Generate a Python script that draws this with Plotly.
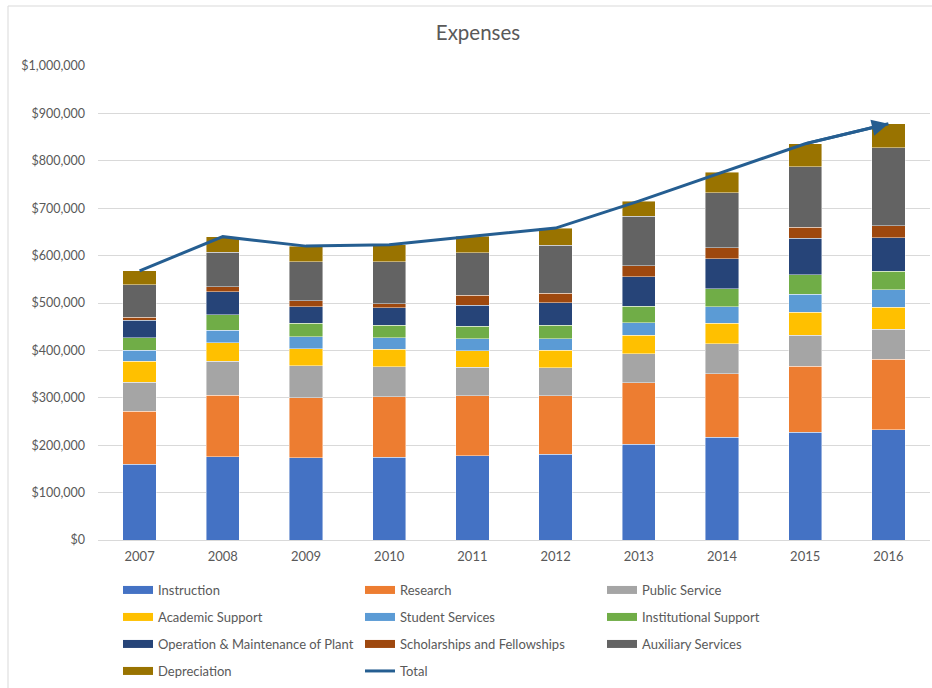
import plotly.graph_objects as go

# Fiscal years on the category axis
years = ["2007", "2008", "2009", "2010", "2011", "2012", "2013", "2014", "2015", "2016"]

# Expense categories (thousands of dollars), bottom to top of each stack
instruction = [160, 176, 174, 175, 178, 181, 202, 217, 227, 233]
research = [112, 129, 126, 127, 126, 123, 130, 134, 140, 148]
public_service = [61, 72, 68, 63, 60, 59, 61, 63, 65, 64]
academic_support = [44, 39, 35, 37, 35, 37, 39, 43, 49, 46]
student_services = [23, 27, 26, 25, 26, 25, 26, 35, 37, 37]
institutional_support = [27, 32, 28, 26, 26, 28, 35, 38, 42, 39]
operation_maintenance = [37, 49, 35, 37, 44, 48, 62, 63, 77, 71]
scholarships = [6, 10, 13, 8, 21, 20, 24, 24, 23, 25]
auxiliary = [69, 73, 82, 89, 90, 101, 104, 116, 127, 165]
depreciation = [29, 33, 33, 36, 35, 36, 32, 43, 49, 50]

series_names = [
    "Instruction", "Research", "Public Service",
    "Academic Support", "Student Services", "Institutional Support",
    "Operation & Maintenance of Plant", "Scholarships and Fellowships", "Auxiliary Services",
    "Depreciation",
]
series_values = [
    instruction, research, public_service,
    academic_support, student_services, institutional_support,
    operation_maintenance, scholarships, auxiliary,
    depreciation,
]
series_colors = [
    "#4472C4", "#ED7D31", "#A5A5A5",
    "#FFC000", "#5B9BD5", "#70AD47",
    "#264478", "#9E480E", "#636363",
    "#997300",
]
total_color = "#255E91"

# Total per year is the sum of all categories
total = [sum(v[i] for v in series_values) * 1000 for i in range(len(years))]

FONT = "Lato, 'Liberation Sans', Arial, sans-serif"
TEXT = "#595959"

fig = go.Figure()

for name, vals, color in zip(series_names, series_values, series_colors):
    fig.add_trace(go.Bar(
        x=years, y=[v * 1000 for v in vals], name=name,
        marker=dict(color=color, line=dict(color="rgba(255,255,255,0.55)", width=0.8)),
        showlegend=False,
    ))

# Total line
fig.add_trace(go.Scatter(
    x=years, y=total, mode="lines", name="Total",
    line=dict(color=total_color, width=3),
    showlegend=False,
))

# Legend entries: wide swatches, three per row
legend_rows = [
    [0, 1, 2], [3, 4, 5], [6, 7, 8], [9, "total"],
]
legend_ids = ["legend", "legend2", "legend3", "legend4"]
for lid, row in zip(legend_ids, legend_rows):
    for item in row:
        if item == "total":
            fig.add_trace(go.Scatter(
                x=[None], y=[None], mode="lines", name="Total",
                line=dict(color=total_color, width=3), legend=lid,
            ))
        else:
            fig.add_trace(go.Scatter(
                x=[None], y=[None], mode="lines", name=series_names[item],
                line=dict(color=series_colors[item], width=8), legend=lid,
            ))

# Plot area geometry (pixels)
W, H = 932, 688
L, R, T, B = 98, 2, 66, 148
pw, ph = W - L - R, H - T - B


def px_x(p):
    return (p - L) / pw


def px_y(p):
    return (H - B - p) / ph


legend_common = dict(
    orientation="h", xanchor="left", yanchor="middle",
    font=dict(family=FONT, size=13, color=TEXT),
    entrywidth=197, entrywidthmode="pixels",
    bgcolor="rgba(0,0,0,0)", traceorder="normal",
    itemclick=False, itemdoubleclick=False,
)
row_centers = [590, 617, 644, 671]
layout_legends = {}
for lid, cy in zip(legend_ids, row_centers):
    layout_legends[lid] = dict(legend_common, x=px_x(118), y=px_y(cy))

n = len(years)
fig.update_layout(
    width=W, height=H,
    margin=dict(l=L, r=R, t=T, b=B, pad=0),
    paper_bgcolor="white", plot_bgcolor="white",
    barmode="stack", bargap=0.6,
    font=dict(family=FONT, color=TEXT),
    title=dict(
        text="Expenses", x=478 / W, xref="container", xanchor="center",
        y=1 - 33 / H, yref="container", yanchor="middle",
        font=dict(family=FONT, size=20.5, color=TEXT),
    ),
    xaxis=dict(
        type="category",
        showgrid=False, showline=False, ticks="",
        tickfont=dict(family=FONT, size=13, color=TEXT),
        ticklabelstandoff=7,
    ),
    yaxis=dict(
        range=[0, 1000000], tickvals=list(range(0, 1000001, 100000)),
        tickformat="$,.0f",
        showgrid=True, gridcolor="#D9D9D9", gridwidth=1,
        zeroline=True, zerolinecolor="#D9D9D9", zerolinewidth=1,
        showline=False, ticks="",
        tickfont=dict(family=FONT, size=12.5, color=TEXT),
        ticklabelstandoff=12,
    ),
    # Arrowhead at the end of the total line, along its last segment
    annotations=[dict(
        x=n - 1, y=total[-1], ax=n - 2, ay=total[-2],
        xref="x", yref="y", axref="x", ayref="y",
        text="", showarrow=True, arrowhead=2, arrowsize=1.1,
        arrowwidth=3, arrowcolor=total_color, standoff=0,
    )],
    shapes=[
        dict(type="line", xref="paper", yref="paper",
             x0=px_x(8), x1=px_x(8), y0=px_y(6), y1=px_y(H + 2),
             line=dict(color="#D9D9D9", width=1)),
        dict(type="line", xref="paper", yref="paper",
             x0=px_x(8), x1=px_x(W + 2), y0=px_y(6), y1=px_y(6),
             line=dict(color="#D9D9D9", width=1)),
    ],
    **layout_legends,
)

fig.write_html("out.html")
